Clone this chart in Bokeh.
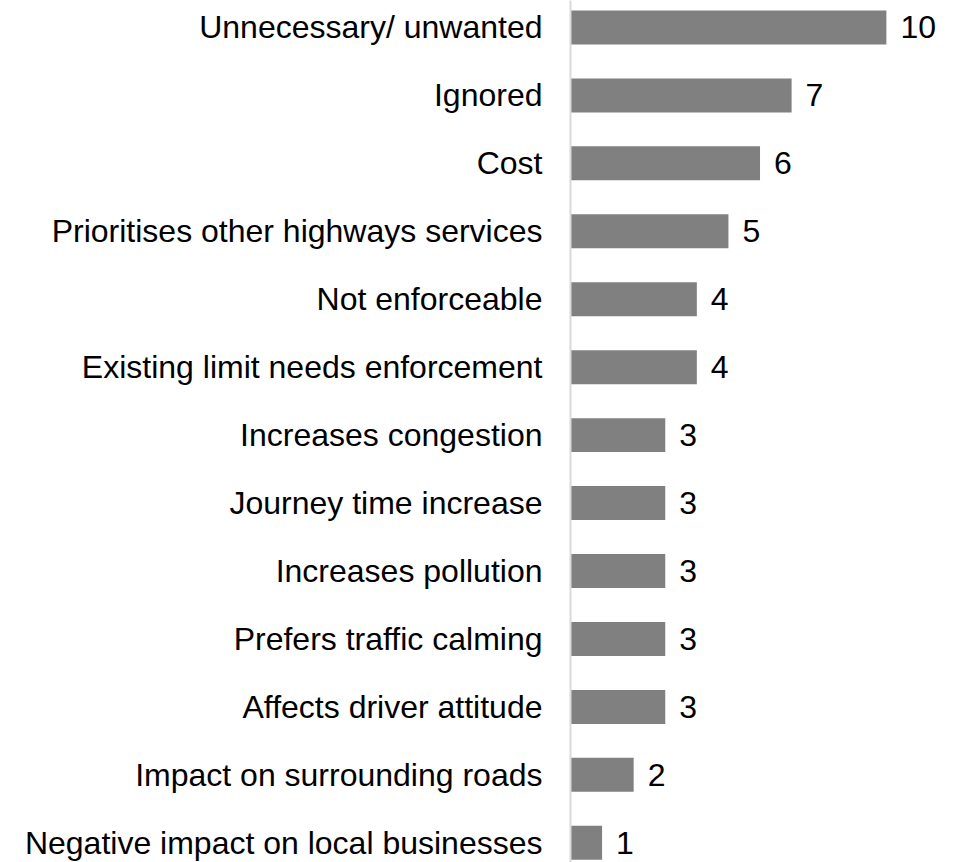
from bokeh.plotting import figure
from bokeh.models import Range1d, ColumnDataSource, LabelSet
from bokeh.core.properties import value
from bokeh.embed import file_html
from bokeh.resources import INLINE

categories = [
    "Unnecessary/ unwanted",
    "Ignored",
    "Cost",
    "Prioritises other highways services",
    "Not enforceable",
    "Existing limit needs enforcement",
    "Increases congestion",
    "Journey time increase",
    "Increases pollution",
    "Prefers traffic calming",
    "Affects driver attitude",
    "Impact on surrounding roads",
    "Negative impact on local businesses",
]
counts = [10, 7, 6, 5, 4, 4, 3, 3, 3, 3, 3, 2, 1]

pos = list(range(len(categories)))
src = ColumnDataSource(dict(y=pos, v=counts, lab=[str(c) for c in counts]))

FONT = "Liberation Sans"

p = figure(width=956, height=862, output_backend="svg", toolbar_location=None,
           x_range=Range1d(0, 12.22), y_range=Range1d(12.29, -0.397),
           min_border_left=570, min_border_right=0, min_border_top=0, min_border_bottom=0)

p.hbar(y="y", right="v", left=0, height=0.5, source=src, color="#808080", line_color=None)

labels = LabelSet(x="v", y="y", text="lab", source=src, x_offset=14,
                  text_baseline="middle", text_align="left",
                  text_font=value(FONT), text_font_size=value("32px"), text_color="#000000")
p.add_layout(labels)

p.xaxis.visible = False
p.xgrid.visible = False
p.ygrid.visible = False
p.outline_line_color = None

ya = p.yaxis[0]
ya.ticker = pos
ya.major_label_overrides = {i: c for i, c in enumerate(categories)}
ya.major_tick_line_color = None
ya.minor_tick_line_color = None
ya.axis_line_color = "#d9d9d9"
ya.axis_line_width = 2
ya.major_label_text_font = FONT
ya.major_label_text_font_size = "32px"
ya.major_label_text_color = "#000000"
ya.major_label_standoff = 22

open("out.html", "w").write(file_html(p, INLINE))
